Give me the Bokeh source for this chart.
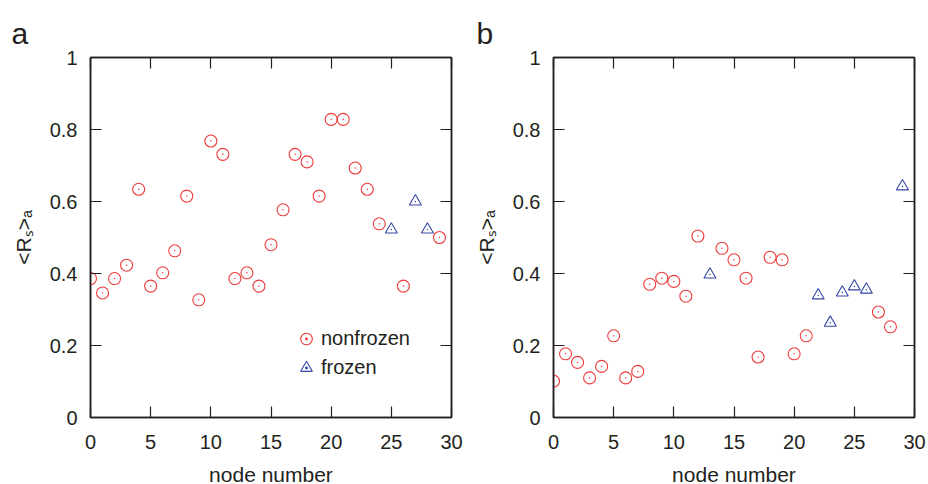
from bokeh.plotting import figure
from bokeh.models import Range1d, LinearAxis, Legend, LegendItem, FixedTicker
from bokeh.layouts import row
from bokeh.embed import file_html
from bokeh.resources import INLINE

# ---------------- data ----------------
nodes = list(range(30))
a_values = [0.386, 0.346, 0.386, 0.423, 0.634, 0.365, 0.402, 0.463, 0.615, 0.327,
            0.768, 0.731, 0.386, 0.402, 0.365, 0.480, 0.577, 0.731, 0.710, 0.615,
            0.828, 0.828, 0.693, 0.634, 0.538, 0.522, 0.365, 0.600, 0.522, 0.500]
a_frozen_nodes = [25, 27, 28]
b_values = [0.101, 0.177, 0.153, 0.110, 0.142, 0.227, 0.110, 0.128, 0.370, 0.387,
            0.378, 0.337, 0.504, 0.397, 0.470, 0.438, 0.387, 0.168, 0.445, 0.438,
            0.177, 0.227, 0.339, 0.263, 0.347, 0.364, 0.355, 0.293, 0.252, 0.642]
b_frozen_nodes = [13, 22, 23, 24, 25, 26, 29]
x_ticks = [0, 5, 10, 15, 20, 25, 30]
y_ticks = [0, 0.2, 0.4, 0.6, 0.8, 1]
y_tick_labels = ["0", "0.2", "0.4", "0.6", "0.8", "1"]
x_label = "node number"
y_label = "<R\u209b>\u2090"
legend_labels = ["nonfrozen", "frozen"]
panel_letters = ["a", "b"]

# ---------------- style ----------------
FONT = "Liberation Sans"
TXT = "#231f20"
RED = "#ee3a3a"
BLUE = "#3646a6"
FRAME_W, FRAME_H = 361, 360
TOP, BOTTOM = 57, 67


def style_axis(ax):
    ax.axis_line_color = TXT
    ax.axis_line_width = 1.5
    ax.major_tick_line_color = TXT
    ax.major_tick_line_width = 1.2
    ax.major_tick_in = 11
    ax.major_tick_out = 0
    ax.minor_tick_line_color = None
    ax.major_label_text_font = FONT
    ax.major_label_text_font_size = "20px"
    ax.major_label_text_color = TXT


def make_panel(values, frozen_nodes, letter, left, right, with_legend):
    p = figure(frame_width=FRAME_W, frame_height=FRAME_H,
               min_border_left=left, min_border_right=right,
               min_border_top=TOP, min_border_bottom=BOTTOM,
               x_range=Range1d(0, 30), y_range=Range1d(0, 1),
               x_axis_location=None, y_axis_location=None,
               output_backend="svg", toolbar_location=None)
    p.grid.visible = False
    p.outline_line_color = TXT
    p.outline_line_width = 1.5
    p.background_fill_color = "white"
    p.border_fill_color = "white"

    # panel letter as title
    p.title.text = letter
    p.title.align = "left"
    p.title.vertical_align = "top"
    p.title.offset = -79 if letter == "a" else -77
    p.title.text_font = FONT
    p.title.text_font_size = "30px"
    p.title.text_font_style = "normal"
    p.title.text_color = TXT
    p.title.standoff = 11

    # axes (with mirrored ticks)
    xb = LinearAxis(axis_label=x_label)
    yl = LinearAxis(axis_label=y_label)
    xt = LinearAxis()
    yr = LinearAxis()
    for ax in (xb, xt):
        style_axis(ax)
        ax.ticker = FixedTicker(ticks=x_ticks)
    for ax in (yl, yr):
        style_axis(ax)
        ax.ticker = FixedTicker(ticks=y_ticks)
    yl.major_label_overrides = {t: s for t, s in zip(y_ticks, y_tick_labels)}
    yl.major_label_standoff = 13
    xb.major_label_standoff = 17
    xb.axis_label_standoff = 11
    for ax in (xb, yl):
        ax.axis_label_text_font = FONT
        ax.axis_label_text_font_size = "21px"
        ax.axis_label_text_font_style = "normal"
        ax.axis_label_text_color = TXT
    yl.axis_label_standoff = 12
    xt.major_label_overrides = {t: "" for t in x_ticks}
    yr.major_label_overrides = {t: "" for t in y_ticks}
    xt.major_label_standoff = 0
    yr.major_label_standoff = 0
    p.add_layout(xb, "below")
    p.add_layout(yl, "left")
    p.add_layout(xt, "above")
    p.add_layout(yr, "right")

    nf_x = [n for n in nodes if n not in frozen_nodes]
    nf_y = [values[n] for n in nf_x]
    fr_x = [n for n in nodes if n in frozen_nodes]
    fr_y = [values[n] for n in fr_x]

    r1 = p.scatter(nf_x, nf_y, marker="circle", size=12, fill_color=None,
                   line_color=RED, line_width=1.1)
    r1d = p.scatter(nf_x, nf_y, marker="dot", size=6, line_color=RED, fill_color=RED)
    r2 = p.scatter(fr_x, fr_y, marker="triangle", size=12, fill_color=None,
                   line_color=BLUE, line_width=1.1)
    r2d = p.scatter(fr_x, fr_y, marker="dot", size=6, line_color=BLUE, fill_color=BLUE)

    if with_legend:
        leg = Legend(items=[LegendItem(label=legend_labels[0], renderers=[r1, r1d]),
                            LegendItem(label=legend_labels[1], renderers=[r2, r2d])],
                     location=(201, 35), border_line_color=None,
                     background_fill_alpha=0, padding=0, margin=0, spacing=-4,
                     glyph_width=30, glyph_height=29, label_height=22,
                     label_standoff=0, label_text_font=FONT,
                     label_text_font_size="20px", label_text_color=TXT)
        p.add_layout(leg, "center")
    return p


p1 = make_panel(a_values, a_frozen_nodes, panel_letters[0], 90, 13, True)
p2 = make_panel(b_values, b_frozen_nodes, panel_letters[1], 89, 14, False)
layout = row(p1, p2, spacing=0)

html = file_html(layout, INLINE)
html = html.replace("<head>", "<head><style>html,body{margin:0;overflow:hidden;}</style>", 1)
open("out.html", "w").write(html)
